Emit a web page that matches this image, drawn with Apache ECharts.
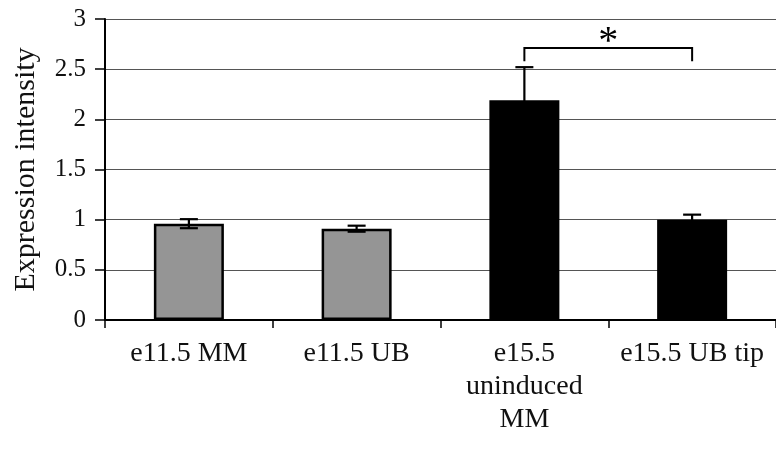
<!DOCTYPE html>
<html>
<head>
<meta charset="utf-8">
<script src="https://cdn.jsdelivr.net/npm/echarts@6/dist/echarts.min.js"></script>
<style>
html,body{margin:0;padding:0;background:#fff;}
#chart{width:776px;height:449px;}
</style>
</head>
<body>
<div id="chart"></div>
<script>
// ---- data ----
var categories = ['e11.5 MM', 'e11.5 UB', 'e15.5\nuninduced\nMM', 'e15.5 UB tip'];
var means = [0.96, 0.91, 2.19, 1.00];
var errors = [0.045, 0.03, 0.33, 0.05];
var yTicks = [0, 0.5, 1, 1.5, 2, 2.5, 3];
var bracketFrom = [2];
var bracketTo = [3];
var bracketLow = [2.58];
var bracketHigh = [2.71];
var bracketMark = ['*'];

var FONT = "'Liberation Serif','Times New Roman',serif";
var barFill = ['#959595', '#959595', '#000000', '#000000'];

var chart = echarts.init(document.getElementById('chart'), null, {renderer: 'canvas'});

var barData = means.map(function (v, i) {
  return {value: v, itemStyle: {color: barFill[i], borderColor: '#000', borderWidth: 2.5}};
});
var errData = means.map(function (v, i) { return [i, v - errors[i], v + errors[i]]; });
var brData = bracketFrom.map(function (f, i) {
  return [f, bracketTo[i], bracketLow[i], bracketHigh[i], bracketMark[i]];
});

var option = {
  animation: false,
  backgroundColor: '#fff',
  grid: {left: 105, right: 0, top: 19, bottom: 129, containLabel: false},
  xAxis: {
    type: 'category',
    data: categories,
    axisLine: {show: true, lineStyle: {color: '#000', width: 2}},
    axisTick: {show: true, alignWithLabel: false, length: 8, lineStyle: {color: '#000', width: 1.5}},
    axisLabel: {color: '#111', fontFamily: FONT, fontSize: 28, margin: 17, lineHeight: 33, interval: 0},
    splitLine: {show: false}
  },
  yAxis: {
    type: 'value',
    min: yTicks[0],
    max: yTicks[yTicks.length - 1],
    interval: 0.5,
    name: 'Expression intensity',
    nameLocation: 'middle',
    nameGap: 64,
    nameTextStyle: {color: '#111', fontFamily: FONT, fontSize: 30},
    axisLine: {show: true, lineStyle: {color: '#000', width: 2}},
    axisTick: {show: true, length: 10, lineStyle: {color: '#000', width: 1.5}},
    axisLabel: {color: '#111', fontFamily: FONT, fontSize: 25, margin: 19,
      formatter: function (v) { return String(v); }},
    splitLine: {show: true, lineStyle: {color: '#555', width: 1.2}}
  },
  series: [
    {
      type: 'bar',
      data: barData,
      barWidth: 70,
      z: 2
    },
    {
      type: 'custom',
      data: errData,
      z: 5,
      renderItem: function (params, api) {
        var x = api.value(0);
        var lo = api.coord([x, api.value(1)]);
        var hi = api.coord([x, api.value(2)]);
        var hw = 9;
        var st = {stroke: '#000', lineWidth: 2.2};
        return {
          type: 'group',
          children: [
            {type: 'line', shape: {x1: lo[0], y1: lo[1], x2: hi[0], y2: hi[1]}, style: st},
            {type: 'line', shape: {x1: hi[0] - hw, y1: hi[1], x2: hi[0] + hw, y2: hi[1]}, style: st},
            {type: 'line', shape: {x1: lo[0] - hw, y1: lo[1], x2: lo[0] + hw, y2: lo[1]}, style: st}
          ]
        };
      }
    },
    {
      type: 'custom',
      data: brData,
      z: 6,
      renderItem: function (params, api) {
        var a = api.coord([api.value(0), api.value(2)]);
        var b = api.coord([api.value(1), api.value(2)]);
        var top = api.coord([api.value(0), api.value(3)])[1];
        var st = {stroke: '#000', lineWidth: 2, fill: null};
        return {
          type: 'group',
          children: [
            {type: 'polyline', shape: {points: [[a[0], a[1]], [a[0], top], [b[0], top], [b[0], b[1]]]}, style: st},
            {type: 'text', style: {text: brData[params.dataIndex][4], x: (a[0] + b[0]) / 2, y: top + 14,
              textAlign: 'center', textVerticalAlign: 'bottom', font: '40px ' + FONT, fill: '#000'}}
          ]
        };
      }
    }
  ]
};
chart.setOption(option);
</script>
</body>
</html>
